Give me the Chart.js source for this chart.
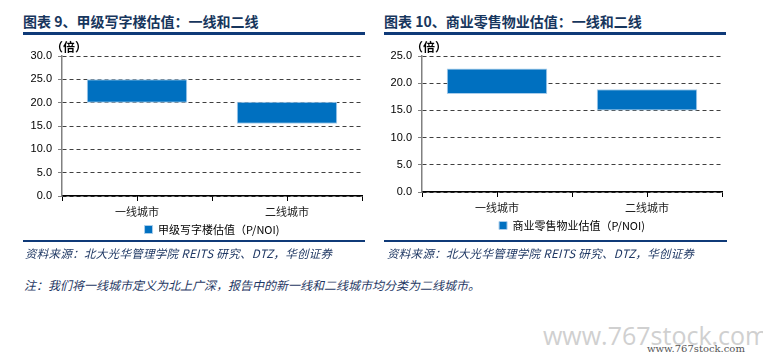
<!DOCTYPE html>
<html>
<head>
<meta charset="utf-8">
<script src="https://cdn.jsdelivr.net/npm/chart.js@4/dist/chart.umd.min.js"></script>
<style>
  body { margin: 0; background: #fff; }
  #page { position: relative; width: 763px; height: 361px; overflow: hidden; background: #fff; font-family: "Noto Sans CJK SC", sans-serif; }
  .title { position: absolute; top: 11px; font-size: 14px; font-weight: bold; color: #17365D; white-space: nowrap; }
  .rule { position: absolute; height: 3px; background: #0F3A78; }
  .rule2 { position: absolute; height: 2px; background: #0F3A78; }
  .unit { position: absolute; top: 38px; font-size: 12px; font-weight: bold; color: #000; }
  .src { position: absolute; top: 245px; font-size: 11.5px; font-style: italic; color: #1F3864; white-space: nowrap; letter-spacing: 0.3px; }
  .note { position: absolute; left: 24px; top: 276px; font-size: 12px; font-style: italic; color: #1F3864; white-space: nowrap; }
  .wm { position: absolute; left: 543px; top: 318px; font-family: "Open Sans", sans-serif; font-size: 25px; color: #d0d0d0; white-space: nowrap; }
  .wm2 { position: absolute; left: 647px; top: 343px; font-family: "DejaVu Serif", serif; font-size: 10px; color: #555; white-space: nowrap; }
  canvas { position: absolute; }
</style>
</head>
<body>
<div id="page">
  <div class="title" style="left:23px">图表 9、甲级写字楼估值：一线和二线</div>
  <div class="title" style="left:384px">图表 10、商业零售物业估值：一线和二线</div>
  <div class="rule" style="left:23px; width:342px; top:32px"></div>
  <div class="rule" style="left:384px; width:342px; top:32px"></div>
  <canvas id="c1" width="350" height="207" style="left:20px; top:40px"></canvas>
  <canvas id="c2" width="350" height="207" style="left:380px; top:40px"></canvas>
  <div class="unit" style="left:51px">（倍）</div>
  <div class="unit" style="left:411px">（倍）</div>
  <div class="rule2" style="left:23px; width:342px; top:240px"></div>
  <div class="rule2" style="left:384px; width:343px; top:240px"></div>
  <div class="src" style="left:25px">资料来源：北大光华管理学院 REITS 研究、DTZ，华创证券</div>
  <div class="src" style="left:387px">资料来源：北大光华管理学院 REITS 研究、DTZ，华创证券</div>
  <div class="note">注：我们将一线城市定义为北上广深，报告中的新一线和二线城市均分类为二线城市。</div>
  <div class="wm">www.767stock.com</div>
  <div class="wm2">www.767stock.com</div>
</div>
<script>
var cities = ["一线城市", "二线城市"];

// chart 9: office valuation range (low, high)
var officeLow = [20.0, 15.5];
var officeHigh = [25.0, 20.2];
var officeMax = 30;

// chart 10: retail valuation range (low, high)
var retailLow = [18.0, 15.0];
var retailHigh = [22.7, 18.9];
var retailMax = 25;

Chart.defaults.font.family = "Liberation Sans";
Chart.defaults.color = "#000";

// small ticks at category centres as in the original
var centreTicks = {
    id: "centreTicks",
    afterDraw(chart) {
        var x = chart.scales.x;
        var ctx = chart.ctx;
        var b = chart.chartArea.bottom;
        ctx.save();
        ctx.strokeStyle = "#000";
        ctx.lineWidth = 1;
        for (var i = 0; i < x.ticks.length; i++) {
            var px = Math.round(x.getPixelForTick(i)) + 0.5;
            ctx.beginPath();
            ctx.moveTo(px, b);
            ctx.lineTo(px, b + 5);
            ctx.stroke();
        }
        ctx.restore();
    }
};

function makeChart(id, low, high, maxY, name, padBottom) {
    var ranges = low.map((v, i) => [v, high[i]]);
    return new Chart(document.getElementById(id), {
        type: "bar",
        data: {
            labels: cities,
            datasets: [{
                label: name,
                data: ranges,
                backgroundColor: "#0070C0",
                borderColor: "#A9CDEB",
                borderWidth: 1,
                borderSkipped: false,
                barPercentage: 0.67,
                categoryPercentage: 1,
            }, ],
        },
        options: {
            responsive: false,
            animation: false,
            layout: { padding: { left: 0, right: 8, top: 16, bottom: padBottom } },
            plugins: {
                tooltip: { enabled: false },
                legend: {
                    position: "bottom",
                    fullSize: false,
                    labels: {
                        boxWidth: 8,
                        boxHeight: 8,
                        padding: 4,
                        color: "#000",
                        font: { family: "Noto Sans CJK SC", size: 11 },
                    },
                },
            },
            scales: {
                x: {
                    offset: true,
                    afterFit(s) { s.height = 24; },
                    grid: {
                        offset: true,
                        drawOnChartArea: false,
                        tickLength: 5,
                        tickColor: "#000",
                    },
                    border: { color: "#000", width: 1.5 },
                    ticks: {
                        padding: 4,
                        color: "#222",
                        font: { family: "Noto Sans CJK SC", size: 11 },
                    },
                },
                y: {
                    min: 0,
                    max: maxY,
                    afterFit(s) { s.width = 42; },
                    grid: {
                        color: "#404040",
                        lineWidth: 1,
                        tickLength: 4,
                        tickColor: "#808080",
                    },
                    border: { color: "#808080", width: 1.5, dash: [4, 3] },
                    ticks: {
                        stepSize: 5,
                        padding: 6,
                        font: { size: 11 },
                        callback: (v) => v.toFixed(1),
                    },
                },
            },
        },
        plugins: [centreTicks],
    });
}

makeChart("c1", officeLow, officeHigh, officeMax, "甲级写字楼估值（P/NOI)", 2);
makeChart("c2", retailLow, retailHigh, retailMax, "商业零售物业估值（P/NOI)", 6);
</script>
</body>
</html>
